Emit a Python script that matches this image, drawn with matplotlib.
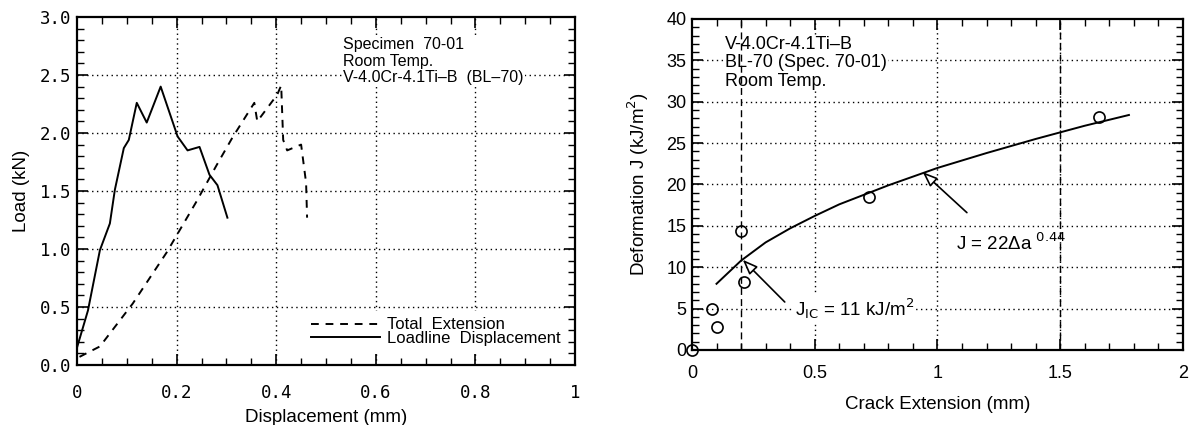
import matplotlib
matplotlib.use("Agg")
import matplotlib.pyplot as plt
from matplotlib.ticker import MultipleLocator, FixedLocator

## DATA
# left panel: load vs displacement
loadline_disp = [0.0, 0.022, 0.046, 0.066, 0.076, 0.094, 0.104, 0.120, 0.140, 0.168, 0.202, 0.222, 0.246, 0.266, 0.282, 0.302]
loadline_load = [0.15, 0.47, 0.99, 1.22, 1.51, 1.87, 1.94, 2.26, 2.09, 2.40, 1.97, 1.85, 1.88, 1.64, 1.55, 1.27]
total_disp = [0.005, 0.046, 0.112, 0.180, 0.240, 0.280, 0.312, 0.356, 0.362, 0.402, 0.410, 0.414, 0.422, 0.450, 0.460, 0.462]
total_load = [0.07, 0.16, 0.53, 0.97, 1.41, 1.72, 1.96, 2.26, 2.10, 2.33, 2.41, 1.94, 1.85, 1.90, 1.57, 1.27]

# right panel: J-R curve
crack_ext = [0.0, 0.08, 0.10, 0.20, 0.21, 0.72, 1.66]
def_j = [0.0, 5.0, 2.8, 14.4, 8.2, 18.5, 28.2]
fit_ext = [0.10, 0.20, 0.30, 0.40, 0.50, 0.60, 0.80, 1.00, 1.20, 1.40, 1.60, 1.78]
fit_j = [8.0, 10.8, 13.0, 14.7, 16.2, 17.6, 19.9, 22.0, 23.8, 25.5, 27.1, 28.4]
bounds_ext = [0.2, 1.5]

left_xticks = [0, 0.2, 0.4, 0.6, 0.8, 1]
left_xlabels = ["0", "0.2", "0.4", "0.6", "0.8", "1"]
left_yticks = [0, 0.5, 1.0, 1.5, 2.0, 2.5, 3.0]
right_xticks = [0, 0.5, 1, 1.5, 2]
right_xlabels = ["0", "0.5", "1", "1.5", "2"]
right_yticks = list(range(0, 41, 5))

plt.rcParams['font.family'] = ['Liberation Sans', 'DejaVu Sans']

fig = plt.figure(figsize=(11.92, 4.25), dpi=100)
ax1 = fig.add_axes([0.0646, 0.1412, 0.4178, 0.8188])
ax2 = fig.add_axes([0.5805, 0.1765, 0.4119, 0.7788])

grid_kw = dict(color="black", linestyle=(0, (1, 2.5)), linewidth=1.0, zorder=1)
white_box = dict(facecolor="white", edgecolor="none", pad=0.5)

## LEFT PANEL
ax1.plot(total_disp, total_load, color="black", lw=1.4, ls=(0, (4, 3.5)), label="Total  Extension", zorder=3)
ax1.plot(loadline_disp, loadline_load, color="black", lw=1.4, label="Loadline  Displacement", zorder=3)
ax1.set_xlim(0, 1)
ax1.set_ylim(0, 3)
ax1.xaxis.set_major_locator(FixedLocator(left_xticks))
ax1.set_xticklabels(left_xlabels)
ax1.yaxis.set_major_locator(FixedLocator(left_yticks))
ax1.set_yticklabels([f"{v:.1f}" for v in left_yticks])
ax1.xaxis.set_minor_locator(MultipleLocator(0.05))
ax1.yaxis.set_minor_locator(MultipleLocator(0.1))
for v in left_xticks[1:-1]:
    ax1.axvline(v, **grid_kw)
for v in left_yticks[1:-1]:
    ax1.axhline(v, **grid_kw)
for lab in ax1.get_xticklabels() + ax1.get_yticklabels():
    lab.set_family("DejaVu Sans Mono")
    lab.set_fontsize(12.5)
ax1.tick_params(axis="x", which="major", pad=14)
ax1.set_xlabel("Displacement (mm)", fontsize=13.5, labelpad=5)
ax1.set_ylabel("Load (kN)", fontsize=13.5, labelpad=7)
ax1.text(0.535, 2.83, "Specimen  70-01\nRoom Temp.\nV-4.0Cr-4.1Ti\u2013B  (BL\u201370)",
         fontsize=11.5, va="top", ha="left", linespacing=1.15, zorder=4, bbox=white_box)
leg = ax1.legend(loc="lower right", bbox_to_anchor=(0.985, 0.035), fontsize=12, frameon=True,
                 handlelength=4.1, handletextpad=0.45, labelspacing=-0.08, borderpad=0.4,
                 borderaxespad=0.0, fancybox=False)
leg.get_frame().set_edgecolor("none")
leg.get_frame().set_facecolor("white")
leg.get_frame().set_alpha(1)

## RIGHT PANEL
ax2.plot(fit_ext, fit_j, color="black", lw=1.4, zorder=3)
ax2.plot(crack_ext, def_j, ls="none", marker="o", ms=8, mfc="none", mec="black", mew=1.2, clip_on=False, zorder=6)
ax2.set_xlim(0, 2)
ax2.set_ylim(0, 40)
ax2.xaxis.set_major_locator(FixedLocator(right_xticks))
ax2.set_xticklabels(right_xlabels)
ax2.yaxis.set_major_locator(FixedLocator(right_yticks))
ax2.xaxis.set_minor_locator(MultipleLocator(0.1))
ax2.yaxis.set_minor_locator(MultipleLocator(1))
for v in right_xticks[1:-1]:
    ax2.axvline(v, **grid_kw)
for v in right_yticks[1:-1]:
    ax2.axhline(v, **grid_kw)
for v in bounds_ext:
    ax2.axvline(v, color="black", ls=(0, (5, 3)), lw=1.0, zorder=5)
for lab in ax2.get_xticklabels() + ax2.get_yticklabels():
    lab.set_fontsize(13)
ax2.tick_params(axis="x", which="major", pad=11)
ax2.set_xlabel("Crack Extension (mm)", fontsize=13.5, labelpad=10)
ax2.set_ylabel("Deformation J (kJ/m$^2$)", fontsize=13.5, labelpad=11)
ax2.text(0.135, 38.0, "V-4.0Cr-4.1Ti\u2013B\nBL-70 (Spec. 70-01)\nRoom Temp.",
         fontsize=13, va="top", ha="left", linespacing=1.12, zorder=4, bbox=white_box)

arrow_kw = dict(arrowstyle="-|>,head_length=0.9,head_width=0.35", color="black", lw=1.2,
                fc="white", shrinkA=0, shrinkB=0)
ax2.annotate("", xy=(0.207, 10.9), xytext=(0.378, 5.8), arrowprops=arrow_kw, zorder=4)
ax2.annotate("", xy=(0.94, 21.5), xytext=(1.12, 16.6), arrowprops=arrow_kw, zorder=4)
ax2.text(0.42, 5.0, "J$_{\\mathrm{IC}}$ = 11 kJ/m$^2$", fontsize=13.5, va="center", ha="left",
         zorder=4, bbox=white_box)
ax2.text(1.075, 12.9, "J = 22\u0394a $^{0.44}$", fontsize=13.5, va="center", ha="left", zorder=4)

for ax in (ax1, ax2):
    ax.tick_params(which="both", direction="in", top=True, right=True, colors="black")
    ax.tick_params(axis="y", which="major", pad=4)
    ax.tick_params(which="major", length=8, width=1.2)
    ax.tick_params(which="minor", length=5, width=1.0)
    for s in ax.spines.values():
        s.set_linewidth(1.6)
        s.set_zorder(7)

fig.savefig("out.png", dpi=100)
